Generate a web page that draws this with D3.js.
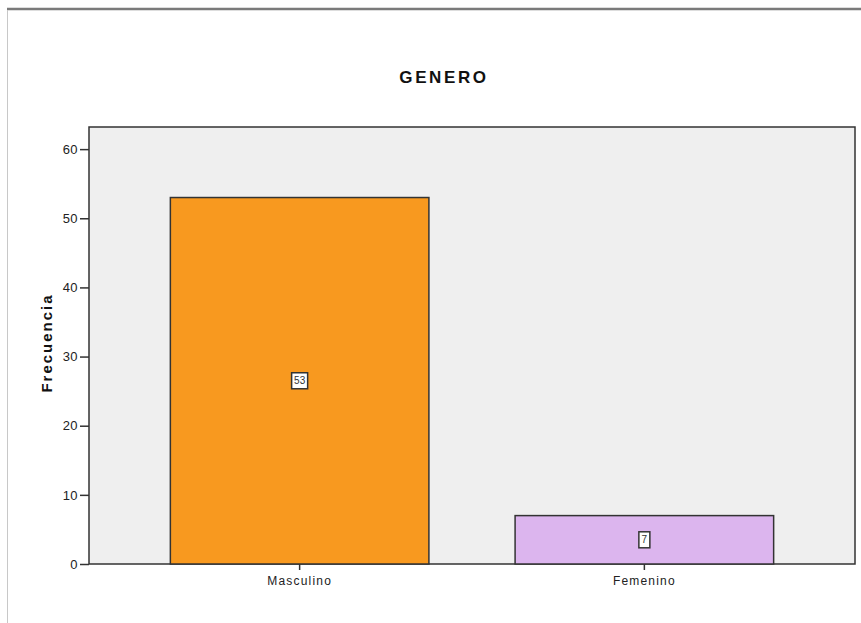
<!DOCTYPE html>
<html>
<head>
<meta charset="utf-8">
<script src="https://cdn.jsdelivr.net/npm/d3@7"></script>
<style>
  body { margin: 0; background: #fff; }
  text { font-family: "Liberation Sans", Arial, sans-serif; }
</style>
</head>
<body>
<div id="chart"></div>
<script>
var categories = ["Masculino", "Femenino"];
var frequencies = [53, 7];
var barColors = ["#f8991f", "#dcb5ee"];
var yTicks = [0, 10, 20, 30, 40, 50, 60];

var W = 861, H = 623;
var plot = { left: 89, right: 855, top: 127, bottom: 564 };

var svg = d3.select("#chart").append("svg")
  .attr("width", W)
  .attr("height", H);

// outer frame lines
svg.append("line").attr("x1", 7).attr("x2", W).attr("y1", 9).attr("y2", 9)
  .attr("stroke", "#7a7a7a").attr("stroke-width", 2.5);
svg.append("line").attr("x1", 7.5).attr("x2", 7.5).attr("y1", 10).attr("y2", H)
  .attr("stroke", "#c8c8c8").attr("stroke-width", 1);

var y = d3.scaleLinear()
  .domain([0, 63.2])
  .range([plot.bottom, plot.top]);

var x = d3.scaleBand()
  .domain(categories)
  .range([plot.left, plot.right])
  .paddingInner(0.25)
  .paddingOuter(0.236);

// plot background
svg.append("rect")
  .attr("x", plot.left).attr("y", plot.top)
  .attr("width", plot.right - plot.left).attr("height", plot.bottom - plot.top)
  .attr("fill", "#efefef")
  .attr("stroke", "#333").attr("stroke-width", 1.5);

// bars
svg.selectAll("rect.bar")
  .data(frequencies)
  .enter()
  .append("rect")
  .attr("class", "bar")
  .attr("x", function(d, i){ return x(categories[i]); })
  .attr("y", function(d){ return y(d); })
  .attr("width", x.bandwidth())
  .attr("height", function(d){ return y(0) - y(d); })
  .attr("fill", function(d, i){ return barColors[i]; })
  .attr("stroke", "#333").attr("stroke-width", 1.5);

// value labels in little boxes
var lab = svg.selectAll("g.vlabel")
  .data(frequencies)
  .enter()
  .append("g")
  .attr("class", "vlabel")
  .attr("transform", function(d, i){
    return "translate(" + (x(categories[i]) + x.bandwidth() / 2) + "," + y(d / 2) + ")";
  });
lab.append("rect")
  .attr("x", function(d){ return String(d).length > 1 ? -8 : -5.5; })
  .attr("y", -8)
  .attr("width", function(d){ return String(d).length > 1 ? 16 : 11; })
  .attr("height", 16)
  .attr("fill", "#fff")
  .attr("stroke", "#333").attr("stroke-width", 1.5);
lab.append("text")
  .attr("text-anchor", "middle")
  .attr("dy", "0.35em")
  .attr("font-size", 10)
  .attr("fill", "#333")
  .text(function(d){ return d; });

// axes
var yAxis = d3.axisLeft(y).tickValues(yTicks).tickSize(9).tickSizeOuter(0).tickPadding(2);
var gy = svg.append("g")
  .attr("transform", "translate(" + plot.left + ",0)")
  .call(yAxis);
gy.select(".domain").remove();
gy.selectAll(".tick line").attr("stroke", "#333").attr("stroke-width", 1.5);
gy.selectAll(".tick text").attr("font-size", 13).attr("fill", "#222")
  .attr("letter-spacing", 0.4)
  .attr("font-family", "Liberation Sans, Arial, sans-serif");

var xAxis = d3.axisBottom(x).tickSize(6).tickSizeOuter(0).tickPadding(6);
var gx = svg.append("g")
  .attr("transform", "translate(0," + plot.bottom + ")")
  .call(xAxis);
gx.select(".domain").remove();
gx.selectAll(".tick line").attr("stroke", "#333").attr("stroke-width", 1.5);
gx.selectAll(".tick text").attr("font-size", 12).attr("fill", "#222")
  .attr("letter-spacing", 1.2)
  .attr("font-family", "Liberation Sans, Arial, sans-serif");

// title
svg.append("text")
  .attr("x", 444).attr("y", 83)
  .attr("text-anchor", "middle")
  .attr("font-size", 17).attr("font-weight", "bold")
  .attr("letter-spacing", 2.6)
  .attr("fill", "#111")
  .text("GENERO");

// y label
svg.append("text")
  .attr("transform", "translate(52," + 343 + ") rotate(-90)")
  .attr("text-anchor", "middle")
  .attr("font-size", 15).attr("font-weight", "bold")
  .attr("letter-spacing", 2)
  .attr("fill", "#111")
  .text("Frecuencia");
</script>
</body>
</html>
